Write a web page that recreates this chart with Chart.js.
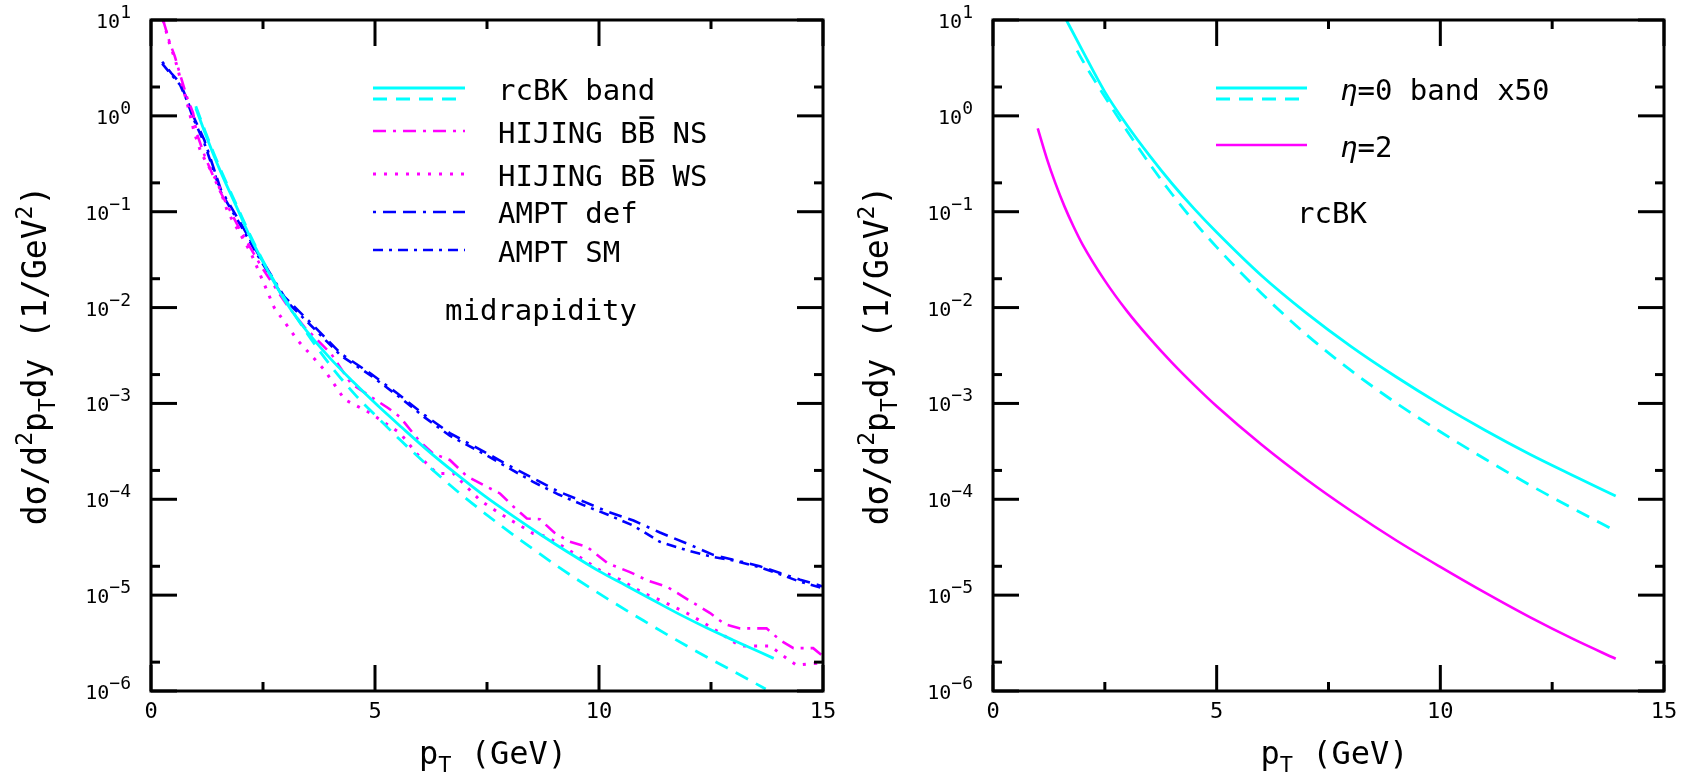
<!DOCTYPE html>
<html><head><meta charset="utf-8">
<script src="https://cdn.jsdelivr.net/npm/chart.js@4.4.1/dist/chart.umd.min.js"></script>
<style>
html,body{margin:0;padding:0;background:#fff;width:1689px;height:779px;overflow:hidden}
#c1{position:absolute;left:0;top:0}
#c2{position:absolute;left:845px;top:0}
</style></head><body>
<canvas id="c1" width="845" height="779"></canvas>
<canvas id="c2" width="844" height="779"></canvas>
<script>
// ---------- axis ticks ----------
const xTickLabels = [0, 5, 10, 15];
const xMinorTicks = [2.5, 7.5, 12.5];
const yTickExponents = [1, 0, -1, -2, -3, -4, -5, -6];
const yMinorTicks = [2, 0.2, 0.02, 2e-3, 2e-4, 2e-5, 2e-6];

// ---------- left panel: midrapidity ----------
const rcbkUpperPt  = [1.0, 1.2, 1.4, 1.6, 1.9, 2.2, 2.6, 3.05, 3.5, 4.0, 4.5, 5.06, 5.6, 6.2, 6.8, 7.46, 8.1, 8.7, 9.3, 10.0, 10.6, 11.2, 11.8, 12.4, 13.0, 13.9];
const rcbkUpperVal = [1.2, 0.676, 0.389, 0.234, 0.115, 0.0562, 0.0245, 0.0107, 5.5e-3, 2.95e-3, 1.7e-3, 9.5e-4, 5.6e-4, 3.16e-4, 1.86e-4, 1.07e-4, 6.6e-5, 4.27e-5, 2.82e-5, 1.78e-5, 1.26e-5, 8.9e-6, 6.3e-6, 4.57e-6, 3.39e-6, 2.19e-6];

const rcbkLowerPt  = [1.0, 1.2, 1.4, 1.6, 1.9, 2.2, 2.6, 3.1, 3.5, 4.0, 4.6, 5.0, 5.56, 6.3, 7.0, 7.79, 8.5, 9.2, 10.2, 11.0, 12.0, 12.9, 13.72];
const rcbkLowerVal = [1.26, 0.708, 0.407, 0.245, 0.12, 0.0589, 0.0251, 0.0102, 5.25e-3, 2.51e-3, 1.17e-3, 7.6e-4, 4.17e-4, 2.0e-4, 1.05e-4, 5.4e-5, 3.09e-5, 1.82e-5, 9.1e-6, 5.4e-6, 2.88e-6, 1.7e-6, 1.05e-6];

const hijingNsPt  = [0.27, 0.42, 0.53, 0.62, 0.67, 0.8, 0.94, 1.02, 1.2, 1.5, 2.0, 2.46, 3.0, 3.42, 4.02, 4.46, 4.91, 5.3, 5.56, 6.0, 6.3, 6.67, 7.05, 7.42, 7.79, 8.1, 8.39, 8.68, 9.0, 9.35, 9.73, 10.2, 10.69, 11.1, 11.51, 12.0, 12.48, 12.8, 13.15, 13.74, 14.04, 14.34, 14.78, 15.0];
const hijingNsVal = [10, 5.75, 4.2, 3.0, 2.5, 1.58, 1.07, 0.66, 0.38, 0.178, 0.063, 0.0269, 0.0112, 6.3e-3, 3.3e-3, 1.62e-3, 1.17e-3, 8.9e-4, 7.2e-4, 4.0e-4, 3.0e-4, 2.57e-4, 1.74e-4, 1.41e-4, 1.15e-4, 8.3e-5, 6.3e-5, 6.2e-5, 4.5e-5, 3.6e-5, 3.2e-5, 2.14e-5, 1.74e-5, 1.41e-5, 1.23e-5, 8.9e-6, 6.5e-6, 5.0e-6, 4.5e-6, 4.5e-6, 3.4e-6, 2.8e-6, 2.8e-6, 2.3e-6];

const hijingWsPt  = [0.27, 0.42, 0.53, 0.67, 0.8, 0.97, 1.12, 1.49, 1.71, 2.23, 2.75, 3.27, 3.87, 4.32, 4.9, 5.56, 5.93, 6.38, 6.75, 7.34, 7.79, 8.53, 8.83, 9.43, 10.02, 10.47, 10.99, 11.36, 11.96, 12.48, 13.15, 13.82, 14.19, 14.41, 14.86, 15.0];
const hijingWsVal = [10, 5.5, 4.0, 2.3, 1.4, 0.66, 0.41, 0.2, 0.1, 0.0372, 0.01, 4.57e-3, 2.24e-3, 1.1e-3, 7.9e-4, 4.9e-4, 3.0e-4, 1.86e-4, 1.86e-4, 9.8e-5, 7.1e-5, 4.4e-5, 4.1e-5, 2.75e-5, 1.82e-5, 1.45e-5, 1.05e-5, 8.9e-6, 6.5e-6, 4.7e-6, 2.95e-6, 2.95e-6, 2.19e-6, 1.86e-6, 1.95e-6, 2.1e-6];

const amptPt     = [0.25, 0.45, 0.65, 0.8, 0.94, 1.19, 1.56, 2.0, 2.38, 2.98, 3.57, 4.24, 4.91, 5.51, 6.1, 6.67, 7.42, 8.0, 8.53, 9.1, 9.65, 10.2, 10.77, 11.36, 12.0, 12.55, 13.0, 13.59, 14.04, 14.49, 15.0];
const amptDefVal = [3.67, 2.8, 2.19, 1.5, 1.0, 0.56, 0.17, 0.076, 0.037, 0.0129, 6.9e-3, 3.3e-3, 2.04e-3, 1.26e-3, 7.6e-4, 4.9e-4, 3.16e-4, 2.24e-4, 1.66e-4, 1.2e-4, 9.5e-5, 7.4e-5, 6.0e-5, 4.5e-5, 3.4e-5, 2.63e-5, 2.34e-5, 2.0e-5, 1.7e-5, 1.45e-5, 1.23e-5];
const amptSmVal  = [3.5, 2.7, 2.1, 1.45, 0.95, 0.52, 0.16, 0.072, 0.035, 0.0122, 6.5e-3, 3.15e-3, 1.95e-3, 1.2e-3, 7.2e-4, 4.6e-4, 3.0e-4, 2.1e-4, 1.52e-4, 1.12e-4, 8.7e-5, 6.9e-5, 5.3e-5, 3.6e-5, 2.9e-5, 2.5e-5, 2.3e-5, 1.95e-5, 1.65e-5, 1.38e-5, 1.18e-5];

// ---------- right panel: rcBK ----------
const eta0UpperPt  = [1.64, 2.0, 2.5, 3.0, 3.5, 4.0, 4.5, 5.0, 6.0, 7.0, 8.0, 9.0, 10.0, 11.0, 12.0, 13.0, 13.92];
const eta0UpperVal = [10, 4.79, 1.78, 0.794, 0.385, 0.197, 0.107, 0.061, 0.0216, 8.81e-3, 3.94e-3, 1.91e-3, 9.77e-4, 5.25e-4, 2.95e-4, 1.74e-4, 1.08e-4];
const eta0LowerPt  = [1.88, 2.0, 2.5, 3.0, 3.5, 4.0, 4.5, 5.0, 6.0, 7.0, 8.0, 9.0, 10.0, 11.0, 12.0, 13.0, 13.92];
const eta0LowerVal = [4.79, 3.8, 1.58, 0.692, 0.316, 0.153, 0.0785, 0.0427, 0.0141, 5.25e-3, 2.21e-3, 1.02e-3, 5.07e-4, 2.63e-4, 1.41e-4, 7.86e-5, 4.68e-5];
const eta2Pt  = [1.0, 1.2, 1.4, 1.6, 1.8, 2.0, 2.5, 3.0, 3.5, 4.0, 4.5, 5.0, 6.0, 7.0, 8.0, 9.0, 10.0, 11.0, 12.0, 13.0, 13.92];
const eta2Val = [0.741, 0.363, 0.195, 0.113, 0.0701, 0.0457, 0.0191, 9.12e-3, 4.79e-3, 2.66e-3, 1.55e-3, 9.33e-4, 3.72e-4, 1.62e-4, 7.59e-5, 3.76e-5, 1.97e-5, 1.06e-5, 5.89e-6, 3.43e-6, 2.17e-6];

// ---------- texts ----------
const leftLegendLabels  = ['rcBK band', 'HIJING BB\u0304 NS', 'HIJING BB\u0304 WS', 'AMPT def', 'AMPT SM'];
const leftNote = 'midrapidity';
const rightLegendLabels = ['\u03b7=0 band x50', '\u03b7=2'];
const rightNote = 'rcBK';
const yTitleSegs = [['d\u03c3/d','n'],['2','sup'],['p','n'],['T','sub'],['dy (1/GeV','n'],['2','sup'],[')','n']];
const xTitleSegs = [['p','n'],['T','sub'],[' (GeV)','n']];

// ---------- styling ----------
const CYAN = '#00ffff', MAGENTA = '#ff00ff', BLUE = '#0000ff';
const FONT = '"DejaVu Sans Mono", monospace';
const MAJOR = 26, MINOR = 9;

function pts(xs, ys) { return xs.map((x, i) => ({ x: x, y: ys[i] })); }
function setFont(ctx, size, italic) { ctx.font = (italic ? 'italic ' : '') + size + 'px ' + FONT; }

function parseLabel(str) {
  const segs = [];
  for (let i = 0; i < str.length; i++) {
    const c = str[i];
    if (str[i + 1] === '\u0304') { segs.push([c, 'ov']); i++; continue; }
    if (c === '\u03b7') { segs.push([c, 'it']); continue; }
    const last = segs[segs.length - 1];
    if (last && last[1] === 'n') last[0] += c; else segs.push([c, 'n']);
  }
  return segs;
}

function drawRich(ctx, segs, x, y, size, align) {
  const m = segs.map(([t, k]) => {
    const s = (k === 'sup' || k === 'sub') ? Math.round(size * 0.7) : size;
    setFont(ctx, s, k === 'it');
    return { t, k, s, w: ctx.measureText(t).width };
  });
  const total = m.reduce((a, b) => a + b.w, 0);
  let cx = align === 'center' ? x - total / 2 : (align === 'right' ? x - total : x);
  ctx.textAlign = 'left'; ctx.textBaseline = 'alphabetic';
  m.forEach(g => {
    setFont(ctx, g.s, g.k === 'it');
    const dy = g.k === 'sup' ? -size * 0.42 : (g.k === 'sub' ? size * 0.26 : 0);
    ctx.fillText(g.t, cx, y + dy);
    if (g.k === 'ov') {
      ctx.save(); ctx.lineWidth = 2.5; ctx.strokeStyle = '#000'; ctx.setLineDash([]);
      ctx.beginPath(); ctx.moveTo(cx + g.w * 0.1, y - size * 0.86); ctx.lineTo(cx + g.w * 0.95, y - size * 0.86); ctx.stroke();
      ctx.restore();
    }
    cx += g.w;
  });
  return total;
}

function drawPower(ctx, e, xRight, yTick) {
  const base = '10', ex = e < 0 ? '\u2212' + (-e) : String(e);
  setFont(ctx, 20); const wb = ctx.measureText(base).width;
  setFont(ctx, 18); const we = ctx.measureText(ex).width;
  const x0 = xRight - wb - we;
  ctx.textAlign = 'left'; ctx.textBaseline = 'alphabetic';
  setFont(ctx, 20); ctx.fillText(base, x0, yTick + 8);
  setFont(ctx, 18); ctx.fillText(ex, x0 + wb, yTick - 2);
}

const decor = {
  id: 'decor',
  afterDraw(chart, args, o) {
    const ctx = chart.ctx, xs = chart.scales.x, ys = chart.scales.y, a = chart.chartArea;
    ctx.save();
    const seg = (x1, y1, x2, y2) => { ctx.beginPath(); ctx.moveTo(x1, y1); ctx.lineTo(x2, y2); ctx.stroke(); };
    ctx.strokeStyle = '#000'; ctx.lineWidth = 3; ctx.setLineDash([]); ctx.lineCap = 'butt';
    ctx.strokeRect(a.left, a.top, a.right - a.left, a.bottom - a.top);
    xTickLabels.forEach(v => { const p = xs.getPixelForValue(v); seg(p, a.bottom, p, a.bottom - MAJOR); seg(p, a.top, p, a.top + MAJOR); });
    xMinorTicks.forEach(v => { const p = xs.getPixelForValue(v); seg(p, a.bottom, p, a.bottom - MINOR); seg(p, a.top, p, a.top + MINOR); });
    yTickExponents.forEach(e => { const p = ys.getPixelForValue(Math.pow(10, e)); seg(a.left, p, a.left + MAJOR, p); seg(a.right, p, a.right - MAJOR, p); });
    yMinorTicks.forEach(v => { const p = ys.getPixelForValue(v); seg(a.left, p, a.left + MINOR, p); seg(a.right, p, a.right - MINOR, p); });
    ctx.fillStyle = '#000';
    yTickExponents.forEach(e => drawPower(ctx, e, a.left - 20, ys.getPixelForValue(Math.pow(10, e))));
    // axis titles
    ctx.save();
    ctx.translate(a.left - 105, (a.top + a.bottom) / 2);
    ctx.rotate(-Math.PI / 2);
    drawRich(ctx, yTitleSegs, 0, 0, 33, 'center');
    ctx.restore();
    drawRich(ctx, xTitleSegs, (a.left + a.right) / 2 + 6, 764, 32, 'center');
    // legend
    (o.legend || []).forEach(item => {
      item.lines.forEach(l => {
        const ds = chart.data.datasets[l.ds];
        ctx.strokeStyle = ds.borderColor; ctx.lineWidth = ds.borderWidth; ctx.setLineDash(ds.borderDash || []);
        seg(o.lx1, l.y, o.lx2, l.y);
      });
      ctx.setLineDash([]); ctx.fillStyle = '#000';
      drawRich(ctx, parseLabel(item.label), o.tx, item.ty, 29, 'left');
    });
    (o.notes || []).forEach(n => { ctx.fillStyle = '#000'; drawRich(ctx, parseLabel(n.label), n.x, n.y, 29, n.align); });
    ctx.restore();
  }
};

function makeChart(id, datasets, yWidth, padRight, decorOpts) {
  return new Chart(document.getElementById(id), {
    type: 'line',
    data: { datasets: datasets },
    plugins: [decor],
    options: {
      responsive: false, animation: false, devicePixelRatio: 1,
      layout: { padding: { left: 0, right: padRight, top: 20, bottom: 0 }, autoPadding: false },
      plugins: { legend: { display: false }, tooltip: { enabled: false }, decor: decorOpts },
      elements: { point: { radius: 0 }, line: { fill: false } },
      scales: {
        x: {
          type: 'linear', min: 0, max: 15, position: 'bottom',
          afterBuildTicks: s => { s.ticks = xTickLabels.map(v => ({ value: v })); },
          grid: { display: false, drawTicks: false }, border: { display: false },
          ticks: { font: { family: 'DejaVu Sans Mono', size: 22 }, color: '#000', padding: 8, maxRotation: 0, autoSkip: false,
                   callback: v => String(v) },
          afterFit: s => { s.height = 88; }
        },
        y: {
          type: 'logarithmic', min: 1e-6, max: 10, position: 'left',
          grid: { display: false, drawTicks: false }, border: { display: false },
          ticks: { display: false },
          afterFit: s => { s.width = yWidth; }
        }
      }
    }
  });
}

function ds(xs, ys, color, dash, width, smooth) {
  return { data: pts(xs, ys), borderColor: color, borderWidth: width, borderDash: dash, pointRadius: 0,
           tension: 0, cubicInterpolationMode: smooth ? 'monotone' : 'default', fill: false };
}

makeChart('c1', [
  ds(rcbkUpperPt, rcbkUpperVal, CYAN, [], 2.8, true),
  ds(rcbkLowerPt, rcbkLowerVal, CYAN, [14, 9], 2.8, true),
  ds(hijingNsPt, hijingNsVal, MAGENTA, [13, 7, 3, 7], 2.6, false),
  ds(hijingWsPt, hijingWsVal, MAGENTA, [3, 8], 3, false),
  ds(amptPt, amptDefVal, BLUE, [3, 7, 13, 7, 13, 7], 2.6, false),
  ds(amptPt, amptSmVal, BLUE, [10, 6, 3, 6], 2.6, false)
], 151, 22, {
  lx1: 373, lx2: 465, tx: 498,
  legend: [
    { lines: [{ ds: 0, y: 88 }, { ds: 1, y: 99 }], ty: 100, label: leftLegendLabels[0] },
    { lines: [{ ds: 2, y: 131 }], ty: 142.5, label: leftLegendLabels[1] },
    { lines: [{ ds: 3, y: 174 }], ty: 185.5, label: leftLegendLabels[2] },
    { lines: [{ ds: 4, y: 212 }], ty: 223, label: leftLegendLabels[3] },
    { lines: [{ ds: 5, y: 250 }], ty: 261.5, label: leftLegendLabels[4] }
  ],
  notes: [{ label: leftNote, x: 541, y: 320, align: 'center' }]
});

makeChart('c2', [
  ds(eta0UpperPt, eta0UpperVal, CYAN, [], 2.8, true),
  ds(eta0LowerPt, eta0LowerVal, CYAN, [14, 9], 2.8, true),
  ds(eta2Pt, eta2Val, MAGENTA, [], 2.6, true)
], 148, 25, {
  lx1: 371, lx2: 462, tx: 495,
  legend: [
    { lines: [{ ds: 0, y: 88 }, { ds: 1, y: 99 }], ty: 100, label: rightLegendLabels[0] },
    { lines: [{ ds: 2, y: 145 }], ty: 156.5, label: rightLegendLabels[1] }
  ],
  notes: [{ label: rightNote, x: 452, y: 223, align: 'left' }]
});
</script></body></html>
